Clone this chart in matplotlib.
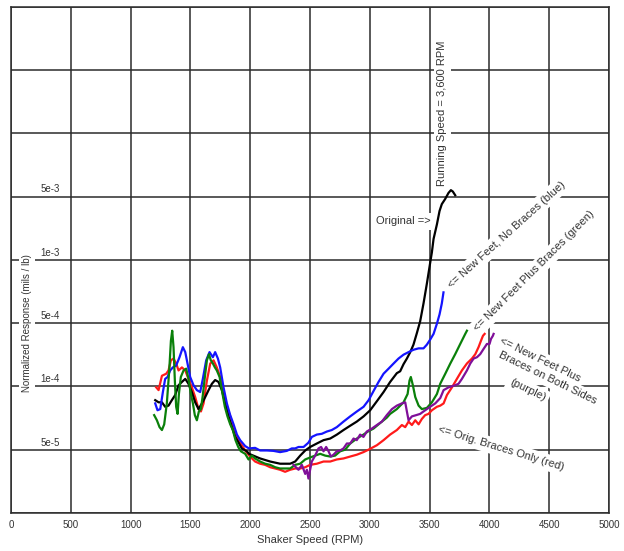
import numpy as np
import matplotlib
matplotlib.use("Agg")
import matplotlib.pyplot as plt

plt.rcParams["font.family"] = ["Liberation Sans", "DejaVu Sans"]

# ---------------------------------------------------------------------------
# Frequency sweep data: shaker speed (RPM) vs normalized response (mils / lb)
# ---------------------------------------------------------------------------
RED_RPM = [1214, 1234, 1262, 1298, 1317, 1337, 1359, 1381, 1401, 1429, 1457, 1484,
           1512, 1540, 1568, 1588, 1610, 1638, 1666, 1694, 1721, 1749, 1777, 1805,
           1833, 1861, 1889, 1916, 1958, 1999, 2041, 2083, 2125, 2167, 2209, 2250,
           2292, 2334, 2376, 2418, 2460, 2501, 2557, 2613, 2669, 2724, 2780, 2836,
           2891, 2947, 2989, 3059, 3115, 3170, 3226, 3268, 3296, 3324, 3352, 3380,
           3408, 3435, 3463, 3491, 3519, 3561, 3589, 3617, 3645, 3687, 3728, 3770,
           3812, 3854, 3882, 3909, 3929, 3946, 3960]
RED_RESP = [9.9e-5, 9.6e-5, 1.31e-4, 1.38e-4, 1.50e-4, 1.94e-4, 2.03e-4, 1.79e-4,
            1.50e-4, 1.62e-4, 1.50e-4, 1.21e-4, 9.9e-5, 8.9e-5, 7.8e-5, 7.6e-5,
            8.3e-5, 1.16e-4, 1.79e-4, 1.94e-4, 1.62e-4, 1.27e-4, 9.2e-5, 8.0e-5,
            7.2e-5, 6.4e-5, 5.7e-5, 5.4e-5, 4.9e-5, 4.2e-5, 3.7e-5, 3.5e-5, 3.4e-5,
            3.2e-5, 3.1e-5, 3.0e-5, 2.85e-5, 3.0e-5, 3.1e-5, 3.1e-5, 3.2e-5, 3.4e-5,
            3.5e-5, 3.7e-5, 3.7e-5, 3.9e-5, 4.0e-5, 4.2e-5, 4.4e-5, 4.7e-5, 5.0e-5,
            5.25e-5, 5.55e-5, 5.9e-5, 6.2e-5, 6.55e-5, 6.4e-5, 6.8e-5, 6.55e-5,
            6.9e-5, 6.6e-5, 7.0e-5, 7.3e-5, 7.4e-5, 7.7e-5, 8.0e-5, 8.1e-5, 8.3e-5,
            9.1e-5, 9.9e-5, 1.21e-4, 1.50e-4, 1.79e-4, 2.03e-4, 2.27e-4, 2.71e-4,
            3.18e-4, 3.62e-4, 3.80e-4]

BLACK_RPM = [1206, 1234, 1262, 1289, 1317, 1345, 1373, 1401, 1429, 1457, 1484, 1512,
             1540, 1568, 1596, 1624, 1652, 1680, 1707, 1735, 1763, 1791, 1819, 1847,
             1875, 1903, 1930, 1972, 1990, 2083, 2167, 2250, 2334, 2376, 2418, 2460,
             2501, 2557, 2613, 2669, 2725, 2780, 2836, 2891, 2948, 3003, 3059, 3115,
             3170, 3226, 3254, 3282, 3310, 3338, 3365, 3393, 3421, 3449, 3477, 3505,
             3519, 3533, 3561, 3583, 3602, 3630, 3658, 3678, 3694, 3714]
BLACK_RESP = [8.6e-5, 8.4e-5, 8.4e-5, 8.0e-5, 8.1e-5, 8.6e-5, 9.1e-5, 1.03e-4,
              1.12e-4, 1.21e-4, 1.07e-4, 9.4e-5, 8.4e-5, 7.8e-5, 8.3e-5, 8.9e-5,
              9.6e-5, 1.07e-4, 1.175e-4, 1.12e-4, 9.6e-5, 8.3e-5, 7.2e-5, 6.4e-5,
              5.75e-5, 5.4e-5, 5.07e-5, 4.8e-5, 4.5e-5, 4.0e-5, 3.7e-5, 3.5e-5,
              3.5e-5, 3.7e-5, 4.3e-5, 4.9e-5, 5.15e-5, 5.35e-5, 5.55e-5, 5.65e-5,
              5.9e-5, 6.2e-5, 6.5e-5, 6.8e-5, 7.2e-5, 7.7e-5, 8.5e-5, 9.4e-5,
              1.12e-4, 1.40e-4, 1.47e-4, 1.76e-4, 2.03e-4, 2.39e-4, 2.89e-4,
              3.86e-4, 5.1e-4, 6.2e-4, 7.7e-4, 9.7e-4, 1.21e-3, 1.70e-3, 2.46e-3,
              3.46e-3, 4.12e-3, 4.69e-3, 5.2e-3, 5.36e-3, 5.28e-3, 5.07e-3]

BLUE_RPM = [1206, 1225, 1248, 1270, 1289, 1309, 1331, 1353, 1381, 1409, 1437, 1457,
            1476, 1498, 1526, 1554, 1582, 1604, 1632, 1660, 1688, 1707, 1730, 1749,
            1777, 1805, 1833, 1861, 1889, 1916, 1958, 1990, 2041, 2083, 2139, 2195,
            2250, 2306, 2348, 2376, 2404, 2446, 2487, 2515, 2557, 2599, 2641, 2682,
            2724, 2780, 2836, 2892, 2948, 2990, 3031, 3073, 3115, 3157, 3199, 3240,
            3282, 3324, 3366, 3408, 3449, 3477, 3505, 3533, 3561, 3583, 3602, 3616]
BLUE_RESP = [8.3e-5, 7.7e-5, 7.8e-5, 9.4e-5, 1.21e-4, 1.27e-4, 1.50e-4, 1.62e-4,
             1.70e-4, 2.10e-4, 2.71e-4, 2.39e-4, 1.79e-4, 1.27e-4, 1.03e-4, 9.6e-5,
             9.4e-5, 1.21e-4, 1.94e-4, 2.39e-4, 2.10e-4, 2.39e-4, 2.03e-4, 1.62e-4,
             9.9e-5, 8.3e-5, 7.3e-5, 6.6e-5, 5.9e-5, 5.55e-5, 5.2e-5, 5.07e-5,
             5.1e-5, 4.9e-5, 4.9e-5, 4.85e-5, 4.7e-5, 4.85e-5, 5.07e-5, 5.07e-5,
             5.15e-5, 5.15e-5, 5.4e-5, 5.75e-5, 5.9e-5, 5.95e-5, 6.1e-5, 6.2e-5,
             6.4e-5, 6.8e-5, 7.2e-5, 7.6e-5, 8.0e-5, 8.6e-5, 9.5e-5, 1.12e-4,
             1.38e-4, 1.57e-4, 1.79e-4, 2.03e-4, 2.24e-4, 2.39e-4, 2.54e-4, 2.63e-4,
             2.63e-4, 2.89e-4, 3.29e-4, 3.80e-4, 4.92e-4, 5.5e-4, 6.2e-4, 7.0e-4]

GREEN_RPM = [1197, 1220, 1242, 1262, 1281, 1303, 1323, 1337, 1348, 1359, 1370, 1381,
             1393, 1404, 1420, 1443, 1465, 1484, 1504, 1521, 1537, 1554, 1571, 1588,
             1604, 1621, 1638, 1655, 1671, 1688, 1705, 1721, 1744, 1766, 1788, 1810,
             1833, 1855, 1877, 1900, 1922, 1958, 1986, 2014, 2041, 2083, 2125, 2167,
             2209, 2250, 2292, 2334, 2376, 2418, 2460, 2501, 2543, 2585, 2627, 2669,
             2710, 2752, 2794, 2836, 2892, 2947, 2984, 3031, 3087, 3142, 3170, 3226,
             3282, 3316, 3332, 3343, 3360, 3380, 3408, 3435, 3477, 3519, 3561, 3589,
             3631, 3673, 3714, 3756, 3798, 3812]
GREEN_RESP = [7.3e-5, 6.9e-5, 6.4e-5, 6.2e-5, 6.6e-5, 8.3e-5, 1.50e-4, 3.18e-4,
              4.12e-4, 2.71e-4, 1.16e-4, 8.0e-5, 7.4e-5, 9.2e-5, 1.27e-4, 1.50e-4,
              1.57e-4, 1.21e-4, 9.2e-5, 8.3e-5, 7.3e-5, 6.9e-5, 7.6e-5, 7.8e-5,
              9.1e-5, 1.27e-4, 1.94e-4, 2.27e-4, 1.94e-4, 1.79e-4, 1.62e-4, 1.50e-4,
              1.27e-4, 9.4e-5, 8.0e-5, 7.2e-5, 6.6e-5, 6.2e-5, 5.55e-5, 5.15e-5,
              4.8e-5, 4.5e-5, 3.9e-5, 4.3e-5, 4.0e-5, 3.7e-5, 3.5e-5, 3.4e-5, 3.2e-5,
              3.1e-5, 3.1e-5, 3.1e-5, 3.4e-5, 3.5e-5, 3.9e-5, 4.1e-5, 4.3e-5, 4.5e-5,
              4.3e-5, 4.2e-5, 4.3e-5, 4.8e-5, 5.0e-5, 5.35e-5, 5.65e-5, 5.9e-5,
              6.1e-5, 6.3e-5, 6.7e-5, 7.1e-5, 7.4e-5, 7.8e-5, 8.4e-5, 9.2e-5,
              1.16e-4, 1.27e-4, 1.03e-4, 8.9e-5, 8.1e-5, 7.8e-5, 7.9e-5, 8.4e-5,
              9.2e-5, 1.07e-4, 1.38e-4, 1.79e-4, 2.27e-4, 2.94e-4, 3.80e-4, 4.12e-4]

PURPLE_RPM = [2362, 2404, 2432, 2460, 2474, 2487, 2501, 2515, 2543, 2571, 2593, 2613,
              2635, 2655, 2675, 2696, 2724, 2752, 2780, 2808, 2836, 2864, 2891, 2919,
              2947, 2975, 3017, 3059, 3101, 3142, 3185, 3226, 3268, 3296, 3310, 3324,
              3352, 3388, 3421, 3463, 3505, 3547, 3589, 3617, 3659, 3714, 3742, 3770,
              3812, 3840, 3868, 3896, 3923, 3951, 3979, 4001, 4013, 4029, 4035]
PURPLE_RESP = [3.4e-5, 3.0e-5, 3.4e-5, 2.7e-5, 3.0e-5, 2.4e-5, 3.0e-5, 3.7e-5,
               4.3e-5, 5.07e-5, 5.15e-5, 4.8e-5, 5.15e-5, 4.8e-5, 4.2e-5, 4.4e-5,
               4.8e-5, 4.9e-5, 5.07e-5, 5.35e-5, 5.35e-5, 5.65e-5, 5.55e-5, 5.9e-5,
               5.75e-5, 6.1e-5, 6.3e-5, 6.55e-5, 6.8e-5, 7.3e-5, 7.8e-5, 8.1e-5,
               8.3e-5, 8.4e-5, 7.6e-5, 6.9e-5, 7.2e-5, 7.3e-5, 7.4e-5, 7.7e-5, 8.0e-5,
               8.3e-5, 8.8e-5, 9.6e-5, 9.9e-5, 1.03e-4, 1.07e-4, 1.21e-4, 1.50e-4,
               1.79e-4, 2.03e-4, 2.10e-4, 2.27e-4, 2.59e-4, 2.94e-4, 2.94e-4, 3.34e-4,
               3.62e-4, 3.80e-4]

# Gridline levels of the response axis (equally spaced rows) and the labelled ones
GRID_LEVELS = [1e-5, 5e-5, 1e-4, 5e-4, 1e-3, 5e-3, 1e-2, 5e-2, 1e-1]
Y_LABEL_VALUES = [5e-5, 1e-4, 5e-4, 1e-3, 5e-3]
Y_LABEL_TEXT = ["5e-5", "1e-4", "5e-4", "1e-3", "5e-3"]
X_TICKS = [0, 500, 1000, 1500, 2000, 2500, 3000, 3500, 4000, 4500, 5000]

# Row-based response scale: each gridline step is one row, log-interpolated inside
_log_levels = np.log10(GRID_LEVELS)
_rows = np.arange(len(GRID_LEVELS), dtype=float)


def to_rows(v):
    v = np.asarray(v, dtype=float)
    return np.interp(np.log10(np.clip(v, 1e-12, None)), _log_levels, _rows)


def from_rows(r):
    return 10 ** np.interp(np.asarray(r, dtype=float), _rows, _log_levels)


fig = plt.figure(figsize=(6.24, 5.51), dpi=100)
ax = fig.add_axes([0.0176, 0.069, 0.9584, 0.919])

ax.set_yscale("function", functions=(to_rows, from_rows))
ax.set_xlim(0, 5000)
ax.set_ylim(GRID_LEVELS[0], GRID_LEVELS[-1])
ax.set_yticks(GRID_LEVELS)
ax.set_yticklabels([])
ax.yaxis.set_minor_locator(matplotlib.ticker.NullLocator())
ax.set_xticks(X_TICKS)
ax.set_xticklabels([str(t) for t in X_TICKS])
ax.tick_params(axis="both", length=0)
ax.tick_params(axis="x", pad=5, labelsize=7, labelcolor="#333333")

ax.set_axisbelow(True)
ax.grid(True, color="#2b2b2b", linewidth=1.1)
for s in ax.spines.values():
    s.set_color("#2b2b2b")
    s.set_linewidth(1.1)

# response curves
lw = 1.6
ax.plot(RED_RPM, RED_RESP, color="#ff1a1a", lw=lw, zorder=4)
ax.plot(BLACK_RPM, BLACK_RESP, color="#000000", lw=lw, zorder=4)
ax.plot(BLUE_RPM, BLUE_RESP, color="#1414ff", lw=lw, zorder=4)
ax.plot(GREEN_RPM, GREEN_RESP, color="#0a800a", lw=lw, zorder=4)
ax.plot(PURPLE_RPM, PURPLE_RESP, color="#800f99", lw=lw, zorder=4)

# labels on the response gridlines
for val, txt in zip(Y_LABEL_VALUES, Y_LABEL_TEXT):
    ax.annotate(txt, xy=(0.082, val), xycoords=("axes fraction", "data"),
                xytext=(0, 1.5), textcoords="offset points",
                ha="right", va="bottom", fontsize=7, color="#333333")

white = dict(boxstyle="square,pad=0.3", fc="white", ec="none")
ax.text(0.027, 5e-4, "Normalized Response (mils / lb)", transform=ax.get_yaxis_transform(),
        rotation=90, ha="center", va="center", fontsize=7, color="#333333",
        bbox=white, zorder=3)

ax.set_xlabel("Shaker Speed (RPM)", fontsize=8, color="#333333", labelpad=4)

ann = dict(fontsize=8, color="#333333", zorder=3,
           bbox=dict(boxstyle="square,pad=0.3", fc="white", ec="none"))

ax.text(3605, 5.6e-3, "Running Speed = 3,600 RPM", rotation=90,
        ha="center", va="bottom", **ann)
ax.text(3505, 2.67e-3, "Original =>", ha="right", va="center", **ann)
ax.text(3665, 7.5e-4, "<= New Feet, No Braces (blue)", rotation=42,
        rotation_mode="anchor", ha="left", va="center", **ann)
ax.text(3885, 4.2e-4, "<= New Feet Plus Braces (green)", rotation=45,
        rotation_mode="anchor", ha="left", va="center", **ann)
ax.text(4425, 1.97e-4, "<= New Feet Plus", rotation=-26,
        rotation_mode="anchor", ha="center", va="center", **ann)
ax.text(4487, 1.23e-4, "Braces on Both Sides", rotation=-26,
        rotation_mode="anchor", ha="center", va="center", **ann)
ax.text(4320, 9.6e-5, "(purple)", rotation=-26,
        rotation_mode="anchor", ha="center", va="center", **ann)
ax.text(4099, 5.07e-5, "<= Orig. Braces Only (red)", rotation=-17,
        rotation_mode="anchor", ha="center", va="center", **ann)

fig.savefig("out.png", dpi=100)
